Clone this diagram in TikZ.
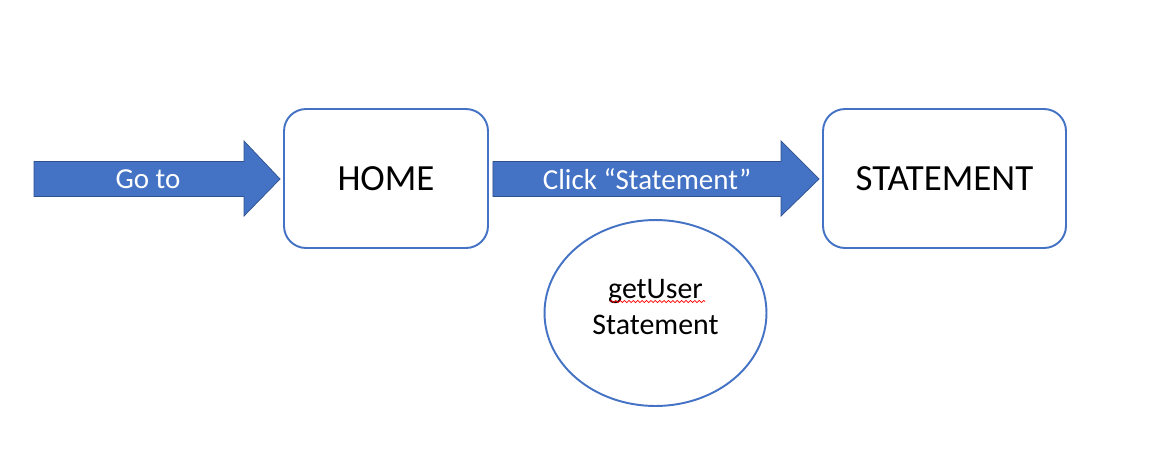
\documentclass[tikz,border=0pt]{standalone}
\usepackage{fontspec}
\setmainfont{Carlito}
\usepackage{xcolor}
\usetikzlibrary{positioning,calc,shapes.geometric,decorations.pathmorphing}

\definecolor{wordblue}{HTML}{4472C4}
\definecolor{wordedge}{HTML}{2F528F}

\begin{document}
\begin{tikzpicture}[
    x=0.02cm, y=-0.02cm,
    page/.style={draw=wordblue, line width=1.1pt, rounded corners=0.44cm, minimum height=2.78cm,
        font=\fontsize{21}{25}\selectfont, inner sep=0pt},
    blockarrow/.style={fill=wordblue, draw=wordedge, thin},
    arrowtext/.style={white, font=\fontsize{16.5}{19}\selectfont},
    call/.style={ellipse, draw=wordblue, line width=1.1pt, minimum width=4.44cm, minimum height=3.72cm,
        inner sep=0pt, align=center, text depth=0.24cm, font=\fontsize{17}{20.3}\selectfont},
]
\useasboundingbox (0,0) rectangle (1157,457);

% =====================================================================
% Pages
% =====================================================================
\node[page, minimum width=4.08cm] (home) at (386,178.5) {HOME};
\node[page, minimum width=4.86cm] (stmt) at (944.5,178.5) {STATEMENT};

% Service call under the second step
\node[call] (user) at (655.5,313) {getUser\\Statement};
\draw[red, line width=0.4pt, decorate,
    decoration={snake, amplitude=0.6pt, segment length=2.5pt}]
    ($(user.center)+(-45.5,-11.5)$) -- ($(user.center)+(49.5,-11.5)$);

% =====================================================================
% Block arrows
% =====================================================================
\coordinate (start) at (34,179);

% entry arrow into HOME
\draw[blockarrow] ($(start)+(0,-17.5)$) -- ($(home.west)+(-39,-17)$)
    -- ($(home.west)+(-39,-37.5)$) -- ($(home.west)+(-3,0.5)$)
    -- ($(home.west)+(-39,37.5)$) -- ($(home.west)+(-39,18)$)
    -- ($(start)+(0,17.5)$) -- cycle;
\node[arrowtext] (goto) at (148,179) {Go to};

% HOME -> STATEMENT
\draw[blockarrow] ($(home.east)+(4,-17)$) -- ($(stmt.west)+(-41,-17)$)
    -- ($(stmt.west)+(-41,-37.5)$) -- ($(stmt.west)+(-3,0.5)$)
    -- ($(stmt.west)+(-41,37.5)$) -- ($(stmt.west)+(-41,18)$)
    -- ($(home.east)+(4,18)$) -- cycle;
\node[arrowtext] (click) at (647,179) {Click “Statement”};

\end{tikzpicture}
\end{document}
